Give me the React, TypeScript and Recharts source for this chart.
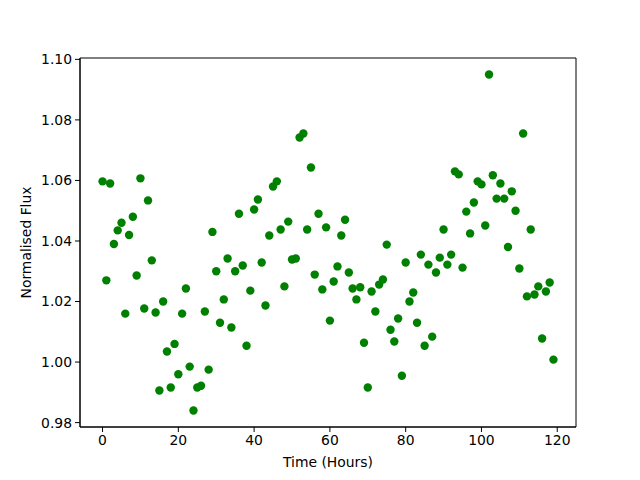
import {
  ScatterChart,
  Scatter,
  XAxis,
  YAxis,
  ReferenceArea,
} from 'recharts'

const hours = [
  0, 1, 2, 3, 4, 5, 6, 7, 8, 9, 10, 11, 12, 13, 14, 15, 16, 17, 18, 19,
  20, 21, 22, 23, 24, 25, 26, 27, 28, 29, 30, 31, 32, 33, 34, 35, 36, 37, 38, 39,
  40, 41, 42, 43, 44, 45, 46, 47, 48, 49, 50, 51, 52, 53, 54, 55, 56, 57, 58, 59,
  60, 61, 62, 63, 64, 65, 66, 67, 68, 69, 70, 71, 72, 73, 74, 75, 76, 77, 78, 79,
  80, 81, 82, 83, 84, 85, 86, 87, 88, 89, 90, 91, 92, 93, 94, 95, 96, 97, 98, 99,
  100, 101, 102, 103, 104, 105, 106, 107, 108, 109, 110, 111, 112, 113, 114, 115, 116, 117, 118, 119,
]

const flux = [
  1.0597, 1.027, 1.059, 1.039, 1.0435, 1.046, 1.016, 1.042, 1.048, 1.0286,
  1.0607, 1.0177, 1.0534, 1.0336, 1.0164, 0.9906, 1.02, 1.0035, 0.9916, 1.006,
  0.996, 1.016, 1.0243, 0.9985, 0.984, 0.9916, 0.9922, 1.0167, 0.9975, 1.043,
  1.03, 1.013, 1.0207, 1.0342, 1.0114, 1.03, 1.049, 1.0319, 1.0054, 1.0236,
  1.0504, 1.0537, 1.0329, 1.0187, 1.0418, 1.058, 1.0597, 1.0438, 1.025, 1.0464,
  1.0339, 1.0342, 1.0742, 1.0755, 1.0438, 1.0643, 1.0289, 1.049, 1.024, 1.0445,
  1.0137, 1.0266, 1.0316, 1.0418, 1.047, 1.0296, 1.0243, 1.0207, 1.0247, 1.0064,
  0.9916, 1.0233, 1.0167, 1.0256, 1.0273, 1.0388, 1.0107, 1.0068, 1.0144, 0.9955,
  1.0329, 1.02, 1.023, 1.013, 1.0355, 1.0054, 1.0322, 1.0084, 1.0296, 1.0345,
  1.0438, 1.0322, 1.0355, 1.063, 1.062, 1.0312, 1.0497, 1.0425, 1.0527, 1.0597,
  1.0587, 1.0451, 1.095, 1.0617, 1.054, 1.059, 1.054, 1.038, 1.0564, 1.05,
  1.0309, 1.0755, 1.0217, 1.0438, 1.0223, 1.025, 1.0078, 1.0233, 1.0263, 1.0008,
]

const xTicks = [0, 20, 40, 60, 80, 100, 120]
const yTicks = [0.98, 1.0, 1.02, 1.04, 1.06, 1.08, 1.1]

const X_DOMAIN: [number, number] = [-5.95, 124.95]
const Y_DOMAIN: [number, number] = [0.97855, 1.10045]

const points = hours.map((h, i) => ({ hour: h, flux: flux[i] }))

const font = 'DejaVu Sans, sans-serif'
const tickStyle = { fontSize: 13.9, fill: '#000', fontFamily: font }

function Dot(props: any) {
  return <circle cx={props.cx} cy={props.cy} r={4.2} fill="#008000" />
}

export default function App() {
  return (
    <div style={{ position: 'absolute', left: 0, top: 0, width: 640, height: 480, background: '#fff' }}>
      <ScatterChart
        width={640}
        height={480}
        margin={{ top: 58, right: 64, bottom: 0, left: 0 }}
      >
        <XAxis
          type="number"
          dataKey="hour"
          domain={X_DOMAIN}
          ticks={xTicks}
          allowDataOverflow
          height={53}
          tick={tickStyle}
          tickSize={5}
          tickMargin={3}
          stroke="#000"
          label={{
            value: 'Time (Hours)',
            position: 'center',
            dy: 9,
            style: { fontSize: 13.9, fill: '#000', fontFamily: font },
          }}
        />
        <YAxis
          type="number"
          dataKey="flux"
          domain={Y_DOMAIN}
          ticks={yTicks}
          allowDataOverflow
          width={80}
          tick={tickStyle}
          tickSize={5}
          tickMargin={3}
          tickFormatter={(v: number) => v.toFixed(2)}
          stroke="#000"
          label={{
            value: 'Normalised Flux',
            angle: -90,
            position: 'center',
            dx: -14,
            style: { fontSize: 13.9, fill: '#000', fontFamily: font, textAnchor: 'middle' },
          }}
        />
        <ReferenceArea
          x1={X_DOMAIN[0]}
          x2={X_DOMAIN[1]}
          y1={Y_DOMAIN[0]}
          y2={Y_DOMAIN[1]}
          fill="none"
          stroke="#000"
          strokeWidth={1}
        />
        <Scatter data={points} shape={Dot} isAnimationActive={false} />
      </ScatterChart>
    </div>
  )
}
